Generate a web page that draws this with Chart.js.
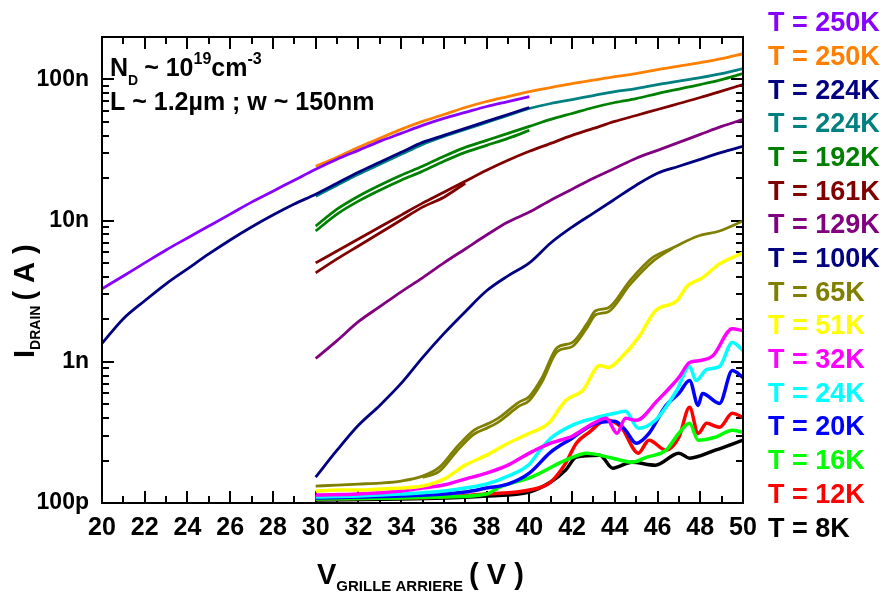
<!DOCTYPE html>
<html><head><meta charset="utf-8">
<script src="https://cdn.jsdelivr.net/npm/chart.js@4/dist/chart.umd.min.js"></script>
<style>html,body{margin:0;padding:0;background:#fff}</style>
</head><body>
<canvas id="c" width="880" height="594"></canvas>
<script>
// ---- data (current in nA, gate voltage in V) ----
const V20_40 = [20,21,22,23,24,25,26,27,28,29,30,31,32,33,34,35,36,37,38,39,40];
const V30_50 = [30,31,32,33,34,35,36,37,38,39,40,41,42,43,44,45,46,47,48,49,50];

const I_250K_a = [3.29,4.06,5.02,6.20,7.54,9.16,11.13,13.53,16.18,19.34,23.13,27.21,31.49,36.45,41.51,47.27,52.97,58.40,64.38,69.83,75.74];
const I_250K_b = [24.29,28.11,33.07,38.28,44.3,50.45,56.53,63.34,69.83,75.74,82.17,87.7,93.6,99.0,104.8,110.1,117.5,124.3,131.6,140.4,152.3];
const I_224K_a = [1.35,2.021,2.708,3.569,4.555,5.81,7.30,9.01,10.95,13.1,15.4,18.42,22.03,25.92,30.49,35.86,40.19,45.03,50.45,56.53,63.34];
const I_224K_b = [14.91,17.83,21.3,25.09,29.51,34.72,39.54,44.3,49.63,55.6,62.32,67.6,72.13,77.0,82.17,86.3,92.1,97.4,103.1,110.1,119.4];
const I_192K   = [9.16,12.07,14.91,17.83,20.98,24.29,28.57,33.07,37.05,41.51,46.51,52.12,57.45,63.34,68.71,73.32,79.53,85.6,92.1,99.8,110.1];
const V_192K_r = [30,31,32,33,34,35,36,37,38,39,40];
const I_192K_r = [8.45,11.13,13.75,16.44,19.34,22.39,26.35,30.49,34.17,38.28,43.6];
const I_161K   = [5.022,6.101,7.418,9.01,10.95,13.31,15.91,19.03,22.75,26.77,30.99,35.28,40.19,45.03,50.45,55.6,61.32,67.6,74.52,82.8,92.1];
const V_161K_r = [30,31,32,33,34,35,36,37];
const I_161K_r = [4.27,5.358,6.618,8.17,10.1,12.47,14.67,18.42];
const I_129K   = [1.055,1.414,1.925,2.457,3.134,3.936,5.022,6.303,7.91,9.77,11.5,13.97,16.71,19.98,23.5,27.66,31.49,35.86,40.84,46.51,52.12];
const I_100K   = [0.1525,0.2366,0.3551,0.4914,0.703,1.072,1.584,2.265,3.186,4.064,5.022,6.95,9.01,11.31,14.2,17.83,21.67,24.29,27.21,30.49,33.62];
const V_65K    = [30,31,32,33,34,35,35.8,36.6,37.4,38.1,38.6,39.5,40,40.6,41.3,42,42.7,43.1,43.7,44.7,45.75,46.7,47.9,48.9,50];
const I_65K    = [0.1318,0.134,0.1362,0.1384,0.143,0.155,0.1795,0.2485,0.3275,0.3669,0.4045,0.516,0.569,0.775,1.261,1.368,1.863,2.301,2.417,3.747,5.446,6.405,7.785,8.45,9.94];
const V_65K_r  = [35,35.8,36.6,37.4,38.1,38.6,39.5,40,40.6,41.3,42,42.7,43.1,43.7,44.7,45.75,46.7];
const I_65K_r  = [0.152,0.1682,0.2328,0.3069,0.3438,0.379,0.4835,0.533,0.726,1.182,1.282,1.746,2.156,2.265,3.511,5.103,6.4];
const V_51K    = [30,31,32,33,34,35,36,37,38,39,40,40.9,41.7,42.5,43.3,43.7,44.3,45.1,45.9,46.9,47.4,48.1,48.9,50];
const I_51K    = [0.1215,0.1235,0.1235,0.1255,0.1276,0.1318,0.1477,0.1854,0.2182,0.2651,0.3119,0.3669,0.5332,0.6274,0.9417,0.9117,1.072,1.484,2.301,2.708,3.455,3.936,4.941,5.907];
const V_32K    = [30,32,34,35,36,37,38,39,40,41,42,43,43.6,44.1,44.5,45,46,47,47.5,48,48.6,49.5,50];
const I_32K    = [0.1139,0.1157,0.1215,0.1276,0.134,0.1477,0.1628,0.1854,0.2254,0.2651,0.2971,0.3669,0.398,0.3119,0.398,0.3852,0.5332,0.775,0.989,1.021,1.108,1.718,1.663];
const V_24K    = [30,32,34,36,37,38,39,40,40.5,41,42,43,44,44.5,45.1,45.9,46.9,47.5,47.8,48.3,48.9,49.5,50];
const I_24K    = [0.1102,0.112,0.1157,0.1215,0.1276,0.1362,0.155,0.1884,0.2366,0.2876,0.3551,0.398,0.4317,0.4459,0.3383,0.3852,0.6274,0.9265,0.738,0.8826,0.9265,1.368,1.202];
const V_20K    = [30,32,34,36,37,38,39,40,41,42,43,44,44.5,45,45.6,46.4,47,47.5,47.9,48.1,48.9,49.5,50];
const I_20K    = [0.1085,0.1102,0.112,0.1157,0.1196,0.1276,0.1362,0.1628,0.2291,0.2876,0.361,0.379,0.3275,0.2651,0.3119,0.4914,0.5973,0.738,0.4914,0.5973,0.5076,0.868,0.775];
const V_16K    = [30,34,36,38,38.6,40.1,41.7,42.7,43.7,44.8,45.5,46.4,47,47.5,47.9,48.7,49.5,50];
const I_16K    = [0.1067,0.1085,0.1102,0.1157,0.1297,0.1525,0.2012,0.2254,0.2112,0.1946,0.2112,0.2366,0.3119,0.3669,0.2784,0.2923,0.3275,0.317];
const V_12K    = [30,34,36,38,40,41,41.7,42.2,42.8,43.6,44.3,45.1,45.6,46.4,47,47.5,47.9,48.3,48.9,49.5,50];
const I_12K    = [0.1067,0.1085,0.1102,0.1157,0.1235,0.1407,0.1915,0.2651,0.317,0.3852,0.3438,0.2254,0.2784,0.2366,0.2923,0.4758,0.3119,0.3669,0.3438,0.4317,0.4045];
const V_8K     = [30,34,36,38,40,41,41.7,42.2,43.3,43.9,44.8,45.9,47,47.5,48.7,50];
const I_8K     = [0.105,0.1067,0.1085,0.112,0.1196,0.1407,0.171,0.2112,0.2182,0.1766,0.1946,0.1854,0.2254,0.2078,0.2366,0.2784];

const legendLabels = ['T = 250K','T = 250K','T = 224K','T = 224K','T = 192K','T = 161K','T = 129K','T = 100K','T = 65K','T = 51K','T = 32K','T = 24K','T = 20K','T = 16K','T = 12K','T = 8K'];
const legendColors = ['#8800ff','#ff8000','#000080','#008080','#008000','#800000','#800080','#000080','#808000','#ffff00','#ff00ff','#00ffff','#0000ff','#00ff00','#ff0000','#000000'];
const xTickLabels = [20,22,24,26,28,30,32,34,36,38,40,42,44,46,48,50];
const xMinorTicks = [20,21,22,23,24,25,26,27,28,29,30,31,32,33,34,35,36,37,38,39,40,41,42,43,44,45,46,47,48,49,50];
const yMajorTicks = [0.1,1,10,100];
const yMinorTicks = [0.1,0.2,0.3,0.4,0.5,0.6,0.7,0.8,0.9,1,2,3,4,5,6,7,8,9,10,20,30,40,50,60,70,80,90,100,200];
const yTickLabels = {'-1':'100p','0':'1n','1':'10n','2':'100n'};

// series: [x array, y array, colour index]
const series = [
  [V20_40, I_250K_a, 0], [V30_50, I_250K_b, 1],
  [V20_40, I_224K_a, 2], [V30_50, I_224K_b, 3],
  [V30_50, I_192K, 4], [V_192K_r, I_192K_r, 4],
  [V30_50, I_161K, 5], [V_161K_r, I_161K_r, 5],
  [V30_50, I_129K, 6], [V30_50, I_100K, 7],
  [V_65K, I_65K, 8], [V_65K_r, I_65K_r, 8],
  [V_51K, I_51K, 9], [V_32K, I_32K, 10], [V_24K, I_24K, 11],
  [V_20K, I_20K, 12], [V_16K, I_16K, 13], [V_12K, I_12K, 14], [V_8K, I_8K, 15]
];

const datasets = series.map(([vx, vy, ci]) => ({
  label: legendLabels[ci],
  data: vx.map((x, i) => ({x: x, y: vy[i]})),
  borderColor: legendColors[ci],
  borderWidth: ci >= 9 ? 3.5 : 2.8,
  pointRadius: 0,
  fill: false,
  cubicInterpolationMode: 'monotone'
}));

const FONT = '"Liberation Sans", Arial, sans-serif';

function rich(ctx, x, y, parts) {
  let cx = x;
  for (const p of parts) {
    ctx.font = 'bold ' + p.size + 'px ' + FONT;
    ctx.fillText(p.t, cx, y + (p.dy || 0));
    cx += ctx.measureText(p.t).width + (p.gap || 0);
  }
}

// inward tick marks drawn by the library's own grid (negative tick length)
function tickGrid(len) {
  return { display: true, drawOnChartArea: false, drawTicks: true, tickLength: -len,
           tickWidth: 2, tickColor: '#000000', lineWidth: 2, color: '#000000' };
}
function tickOnlyScale(axis, position, type, min, max, values, len) {
  return {
    axis: axis, position: position, type: type, min: min, max: max, weight: -1,
    afterBuildTicks: s => { s.ticks = values.map(v => ({value: v})); },
    ticks: { display: false, autoSkip: false },
    grid: tickGrid(len),
    border: { display: false },
    afterFit: s => { if (axis === 'x') { s.height = 0; } else { s.width = 0; } }
  };
}

const deco = {
  id: 'deco',
  afterDraw(chart) {
    const ctx = chart.ctx, a = chart.chartArea;
    ctx.save();
    ctx.fillStyle = '#000000';
    ctx.fillRect(a.left - 1, a.top - 1, a.right - a.left + 2, 2);
    ctx.fillRect(a.left - 1, a.bottom - 1, a.right - a.left + 2, 2);
    ctx.fillRect(a.left - 1, a.top - 1, 2, a.bottom - a.top + 2);
    ctx.fillRect(a.right - 1, a.top - 1, 2, a.bottom - a.top + 2);
    ctx.textBaseline = 'alphabetic';
    ctx.textAlign = 'left';
    rich(ctx, 110, 76, [
      {t:'N', size:25}, {t:'D', size:14, dy:9, gap:6}, {t:'~ 10', size:25},
      {t:'19', size:16, dy:-12}, {t:'cm', size:25}, {t:'-3', size:16, dy:-12}
    ]);
    rich(ctx, 110, 110, [{t:'L ~ 1.2µm ; w ~ 150nm', size:25}]);
    rich(ctx, 317, 584, [
      {t:'V', size:29}, {t:'GRILLE ARRIERE', size:15, dy:7, gap:6}, {t:'( V )', size:29}
    ]);
    ctx.save();
    ctx.translate(34, 358);
    ctx.rotate(-Math.PI / 2);
    rich(ctx, 0, 0, [
      {t:'I', size:29}, {t:'DRAIN', size:14, dy:6, gap:5}, {t:'( A )', size:29}
    ]);
    ctx.restore();
    ctx.textBaseline = 'middle';
    ctx.font = 'bold 27px ' + FONT;
    legendLabels.forEach((t, i) => {
      ctx.fillStyle = legendColors[i];
      ctx.fillText(t, 768, 24 + i * 33.67);
    });
    ctx.restore();
  }
};

new Chart(document.getElementById('c'), {
  type: 'line',
  data: { datasets: datasets },
  options: {
    responsive: false,
    animation: false,
    devicePixelRatio: 1,
    layout: { padding: { left: 0, top: 37, right: 137, bottom: 0 } },
    plugins: { legend: { display: false }, tooltip: { enabled: false } },
    scales: {
      x: {
        type: 'linear', position: 'bottom', min: 20, max: 50,
        afterBuildTicks: s => { s.ticks = xTickLabels.map(v => ({value: v})); },
        ticks: { color: '#000', font: { family: '"Liberation Sans Narrow", "Liberation Sans", Arial', size: 25, weight: 'bold' }, padding: 22, maxRotation: 0, autoSkip: false },
        grid: tickGrid(12),
        border: { display: false },
        afterFit: s => { s.height = 91; }
      },
      y: {
        type: 'logarithmic', position: 'left', min: 0.1, max: 200,
        afterBuildTicks: s => { s.ticks = yMinorTicks.map(v => ({value: v})); },
        ticks: {
          color: '#000', font: { family: FONT, size: 23, weight: 'bold' }, padding: 20, autoSkip: false,
          callback: v => { const l = Math.log10(v); const r = Math.round(l); return Math.abs(l - r) < 1e-6 ? (yTickLabels[String(r)] || '') : ''; }
        },
        grid: tickGrid(7),
        border: { display: false },
        afterFit: s => { s.width = 102; }
      },
      xMinor: tickOnlyScale('x', 'bottom', 'linear', 20, 50, xMinorTicks, 7),
      xTop: tickOnlyScale('x', 'top', 'linear', 20, 50, xTickLabels, 12),
      xTopMinor: tickOnlyScale('x', 'top', 'linear', 20, 50, xMinorTicks, 7),
      yMajor: tickOnlyScale('y', 'left', 'logarithmic', 0.1, 200, yMajorTicks, 12),
      yRight: tickOnlyScale('y', 'right', 'logarithmic', 0.1, 200, yMajorTicks, 12),
      yRightMinor: tickOnlyScale('y', 'right', 'logarithmic', 0.1, 200, yMinorTicks, 7)
    }
  },
  plugins: [deco]
});
</script>
</body></html>
